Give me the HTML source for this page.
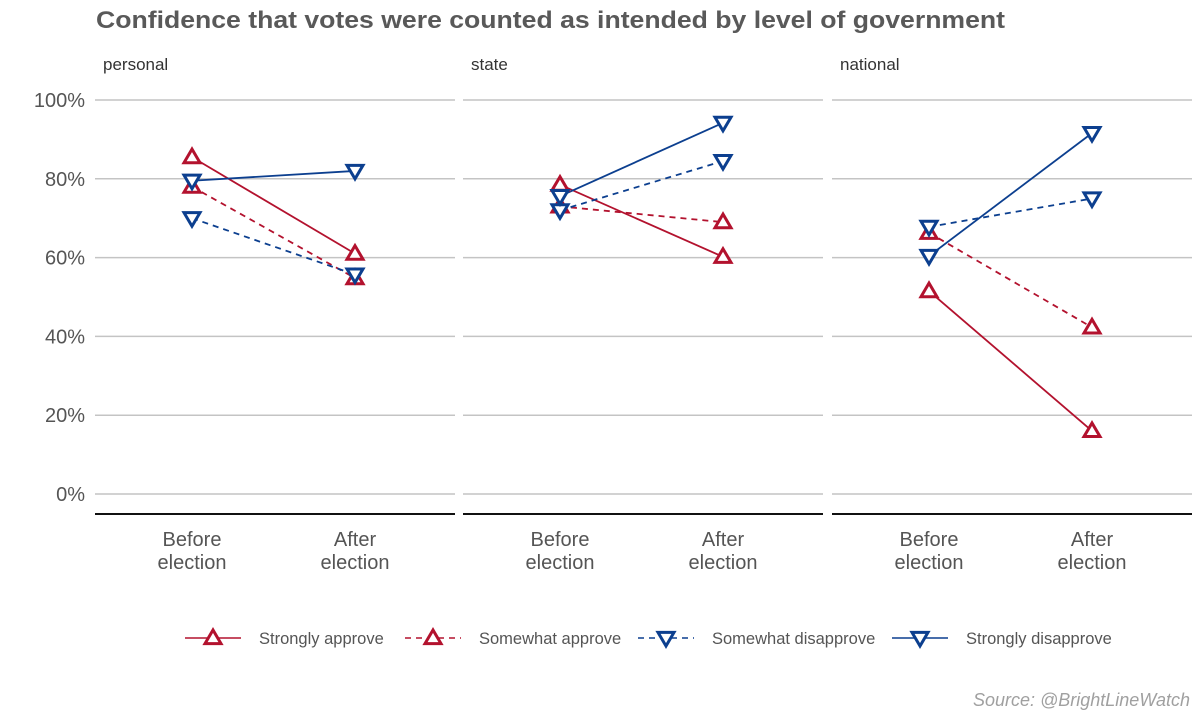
<!DOCTYPE html>
<html><head><meta charset="utf-8"><style>
body{margin:0;background:#fff;}
svg{display:block;font-family:"Liberation Sans",sans-serif;}
</style></head><body>
<svg id="chart" width="1200" height="720">
<text x="96" y="28" font-size="24" font-weight="bold" fill="#595959" textLength="909" lengthAdjust="spacingAndGlyphs">Confidence that votes were counted as intended by level of government</text>
<g id="plot"></g>
<text x="1190" y="706" font-size="18" font-style="italic" fill="#a0a0a0" text-anchor="end">Source: @BrightLineWatch</text>
</svg>
<script>
const panels=["personal","state","national"];
const times=["Before\nelection","After\nelection"];
const seriesNames=["Strongly approve","Somewhat approve","Somewhat disapprove","Strongly disapprove"];
const strongApprove=[[85.5,61],[78.5,60.2],[51.5,16]];
const somewhatApprove=[[78,54.8],[73,69],[66.3,42.3]];
const somewhatDisapprove=[[70,55.7],[72,84.5],[67.8,75]];
const strongDisapprove=[[79.5,82],[75.6,94.2],[60.4,91.6]];
const yTicks=[0,20,40,60,80,100];
const yTickLabels=["0%","20%","40%","60%","80%","100%"];

const data=[strongApprove,somewhatApprove,somewhatDisapprove,strongDisapprove];
const colors=["#b3122e","#b3122e","#0c3f8f","#0c3f8f"];
const dashed=[false,true,true,false];
const up=[true,true,false,false];
const NS="http://www.w3.org/2000/svg";
const g=document.getElementById('plot');
const panelX=[95,463,832], panelW=360;
const y=v=>494-v*3.94;
const x=(p,i)=>panelX[p]+97+i*163;
function mk(tag,attrs,parent){const e=document.createElementNS(NS,tag);for(const k in attrs)e.setAttribute(k,attrs[k]);(parent||g).appendChild(e);return e;}
function tri(cx,cy,isUp,col,parent){
 const s=8;
 const pts=isUp?`${cx},${cy-s} ${cx-s},${cy+s*0.7} ${cx+s},${cy+s*0.7}`:`${cx},${cy+s} ${cx-s},${cy-s*0.7} ${cx+s},${cy-s*0.7}`;
 return mk('polygon',{points:pts,fill:'#fff',stroke:col,'stroke-width':3,'stroke-linejoin':'miter'},parent);
}
yTicks.forEach((t,i)=>{
 const l=mk('text',{x:85,y:y(t)+7,'font-size':20,fill:'#555','text-anchor':'end'});l.textContent=yTickLabels[i];
 
 
});
panels.forEach((p,pi)=>{
 const s=mk('text',{x:panelX[pi]+8,y:70,'font-size':17,fill:'#333'});s.textContent=p;
 
 
 yTicks.forEach(t=>{const gl=mk('line',{x1:panelX[pi],x2:panelX[pi]+panelW,y1:y(t),y2:y(t),stroke:'#c4c4c4','stroke-width':1.5});
  
  });
 const ax=mk('line',{x1:panelX[pi],x2:panelX[pi]+panelW,y1:514,y2:514,stroke:'#111','stroke-width':2});
 
 
 times.forEach((t,ti)=>{t.split('\n').forEach((line,li)=>{
  const tx=mk('text',{x:x(pi,ti),y:546+li*23,'font-size':20,fill:'#555','text-anchor':'middle'});tx.textContent=line;
  
  
 });});
 data.forEach((d,si)=>{
  const ln=mk('line',{x1:x(pi,0),y1:y(d[pi][0]),x2:x(pi,1),y2:y(d[pi][1]),stroke:colors[si],'stroke-width':1.8,'stroke-dasharray':dashed[si]?'6,5':'none'});
  
  
 });
 data.forEach((d,si)=>{[0,1].forEach(ti=>{
  const m=tri(x(pi,ti),y(d[pi][ti]),up[si],colors[si]);
  
  
 });});
});
const legX=[185,405,638,892];
seriesNames.forEach((n,i)=>{
 const lg=mk('g',{});
 
 
 mk('line',{x1:legX[i],x2:legX[i]+56,y1:638,y2:638,stroke:colors[i],'stroke-width':1.6,'stroke-dasharray':dashed[i]?'6,5':'none'},lg);
 tri(legX[i]+28,638,up[i],colors[i],lg);
 const t=mk('text',{x:legX[i]+74,y:644,'font-size':16.5,fill:'#555'},lg);t.textContent=n;
});
</script>
</body></html>
